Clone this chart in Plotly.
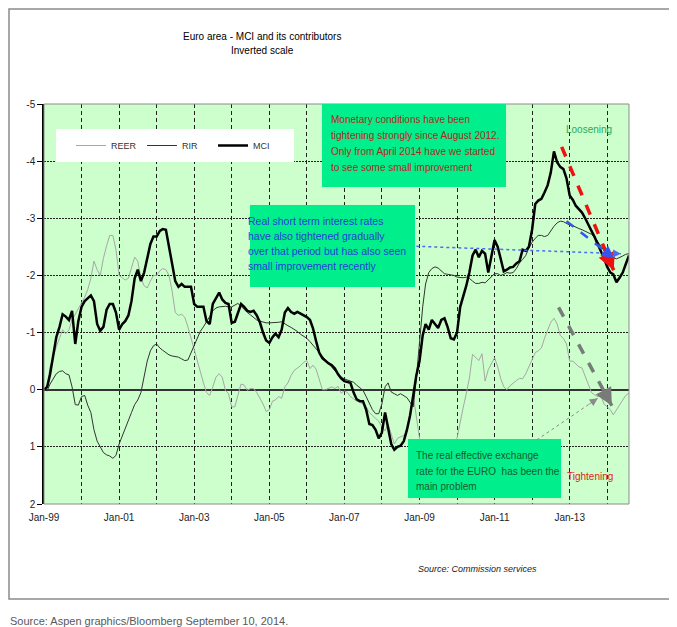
import pandas as pd
import plotly.graph_objects as go

# monthly data, Jan-1999 .. Aug-2014 (inverted scale: negative = looser)
months = pd.date_range("1999-01-01", periods=188, freq="MS")

mci = [
    0.00, -0.05, -0.27, -0.62, -0.92, -1.10, -1.32, -1.28, -1.22, -1.38,
    -0.80, -1.20, -1.45, -1.55, -1.60, -1.65, -1.55, -1.15, -1.03, -1.10,
    -1.40, -1.50, -1.50, -1.35, -1.05, -1.15, -1.20, -1.30, -1.55, -1.95,
    -2.10, -1.90, -2.05, -2.28, -2.55, -2.68, -2.68, -2.78, -2.81, -2.80,
    -2.50, -2.20, -1.90, -1.80, -1.85, -1.80, -1.80, -1.80, -1.50, -1.45,
    -1.45, -1.45, -1.20, -1.15, -1.50, -1.60, -1.70, -1.58, -1.52, -1.50,
    -1.17, -1.19, -1.35, -1.50, -1.45, -1.38, -1.36, -1.38, -1.30, -1.18,
    -1.00, -0.86, -0.82, -0.92, -0.98, -0.92, -1.05, -1.35, -1.43, -1.36,
    -1.33, -1.36, -1.33, -1.30, -1.27, -1.22, -1.08, -0.85, -0.65, -0.55,
    -0.50, -0.46, -0.43, -0.37, -0.27, -0.20, -0.15, -0.13, -0.12, 0.05,
    0.17, 0.20, 0.20, 0.35, 0.60, 0.62, 0.70, 0.85, 0.75, 0.40,
    0.65, 0.95, 1.05, 1.00, 0.98, 0.90, 0.70, 0.45, 0.10, -0.25,
    -0.50, -0.95, -1.15, -1.05, -1.22, -1.15, -1.08, -1.22, -1.25, -1.10,
    -0.90, -0.88, -1.00, -1.45, -1.62, -1.82, -2.05, -2.35, -2.45, -2.32,
    -2.43, -2.38, -2.05, -2.30, -2.62, -2.50, -2.30, -2.07, -2.10, -2.14,
    -2.15, -2.21, -2.25, -2.45, -2.43, -2.50, -2.80, -3.25, -3.31, -3.34,
    -3.45, -3.58, -3.80, -4.17, -3.98, -3.90, -3.86, -3.70, -3.40, -3.32,
    -3.22, -3.15, -3.10, -3.00, -2.88, -2.78, -2.67, -2.55, -2.44, -2.30,
    -2.15, -2.05, -2.02, -1.88, -1.96, -2.05, -2.20, -2.35,
]

rir = [
    0.00, 0.02, -0.10, -0.20, -0.28, -0.32, -0.33, -0.28, -0.26, -0.05,
    0.26, 0.27, 0.12, 0.10, 0.27, 0.40, 0.70, 0.90, 1.00, 1.10,
    1.14, 1.16, 1.20, 1.15, 0.95, 0.80, 0.70, 0.55, 0.40, 0.26,
    0.18, 0.05, -0.20, -0.50, -0.68, -0.77, -0.80, -0.73, -0.69, -0.65,
    -0.61, -0.59, -0.58, -0.57, -0.54, -0.51, -0.52, -0.64, -0.78, -0.90,
    -1.02, -1.10, -1.18, -1.28, -1.38, -1.43, -1.45, -1.46, -1.46, -1.45,
    -1.45, -1.48, -1.51, -1.46, -1.40, -1.35, -1.31, -1.26, -1.22, -1.20,
    -1.18, -1.17, -1.17, -1.17, -1.17, -1.18, -1.19, -1.15, -1.12, -1.09,
    -1.06, -1.02, -0.97, -0.94, -0.90, -0.84, -0.78, -0.71, -0.65, -0.58,
    -0.52, -0.45, -0.39, -0.33, -0.28, -0.22, -0.19, -0.17, -0.15, -0.13,
    -0.08, -0.03, 0.01, 0.12, 0.25, 0.35, 0.42, 0.42, 0.25, -0.05,
    -0.12, 0.04, 0.07, 0.10, 0.07, 0.10, 0.14, 0.22, 0.30, -0.20,
    -0.80, -1.45, -1.85, -2.05, -2.12, -2.15, -2.13, -2.08, -2.03, -2.02,
    -2.01, -2.00, -1.97, -1.96, -1.96, -1.97, -1.95, -1.90, -1.86, -1.86,
    -1.88, -1.87, -1.93, -1.98, -2.03, -2.03, -2.00, -2.02, -2.05, -2.04,
    -2.05, -2.12, -2.22, -2.28, -2.35, -2.48, -2.58, -2.65, -2.70, -2.70,
    -2.68, -2.70, -2.78, -2.86, -2.92, -2.95, -2.94, -2.91, -2.88, -2.87,
    -2.84, -2.82, -2.80, -2.77, -2.74, -2.72, -2.67, -2.59, -2.50, -2.42,
    -2.35, -2.30, -2.31, -2.29, -2.31, -2.34, -2.37, -2.38,
]

reer = [
    0.00, -0.05, -0.40, -0.60, -0.75, -0.90, -1.05, -0.98, -1.05, -1.22,
    -1.32, -1.44, -1.54, -1.62, -1.75, -1.95, -2.25, -2.10, -2.00, -2.30,
    -2.52, -2.70, -2.70, -2.45, -2.00, -1.95, -1.92, -1.95, -2.15, -2.32,
    -2.25, -1.95, -1.82, -1.78, -1.90, -2.00, -2.00, -2.08, -2.12, -2.10,
    -2.00, -1.72, -1.35, -1.30, -1.32, -1.27, -1.10, -0.90, -0.68, -0.52,
    -0.30, -0.12, 0.05, 0.10, -0.05, -0.22, -0.28, -0.22, 0.01, 0.07,
    0.30, 0.30, 0.10, -0.10, -0.08, 0.01, -0.02, -0.02, 0.05, 0.15,
    0.25, 0.38, 0.35, 0.20, 0.18, 0.12, 0.15, -0.05, -0.12, -0.25,
    -0.34, -0.38, -0.42, -0.48, -0.51, -0.37, -0.43, -0.36, -0.20, 0.00,
    0.00, -0.03, -0.05, -0.02, -0.06, 0.06, 0.02, 0.05, 0.12, 0.16,
    0.20, 0.22, 0.25, 0.30, 0.40, 0.45, 0.50, 0.55, 0.65, 0.72,
    0.60, 0.80, 0.95, 0.85, 0.83, 0.80, 0.72, 0.45, 0.10, 0.50,
    0.85, 1.10, 1.25, 1.30, 1.35, 1.30, 1.25, 1.20, 1.15, 1.10,
    1.05, 1.00, 0.85, 0.54, 0.32, 0.07, -0.20, -0.62, -0.57, -0.51,
    -0.63, -0.15, -0.35, -0.45, -0.56, -0.40, -0.20, -0.05, 0.00, -0.07,
    -0.12, -0.16, -0.20, -0.19, -0.28, -0.40, -0.52, -0.65, -0.68, -0.73,
    -0.90, -1.05, -1.18, -1.25, -1.15, -0.95, -0.90, -0.80, -0.50, -0.50,
    -0.45, -0.40, -0.38, -0.24, -0.08, 0.05, 0.09, 0.12, 0.11, 0.25,
    0.30, 0.35, 0.44, 0.35, 0.25, 0.18, 0.10, 0.06,
]

x_tick_dates = pd.date_range("1999-01-01", "2013-01-01", freq="24MS")
y_tick_vals = [-5, -4, -3, -2, -1, 0, 1, 2]
y_tick_text = ["-5", "-4", "-3", "-2", "-1", "0", "1", "2"]

FONT = "Liberation Sans, Arial, sans-serif"

# the page has an 8px body margin; positions below are in window pixels
# plot area in window pixels: x 44..629, y 104..504
def px(x):
    return (x - 44) / 585

def py(y):
    return (504 - y) / 400

fig = go.Figure()
fig.add_trace(go.Scatter(x=months, y=reer, mode="lines", name="REER",
                         line=dict(color="#a6a6a6", width=1)))
fig.add_trace(go.Scatter(x=months, y=rir, mode="lines", name="RIR",
                         line=dict(color="#333333", width=1)))
fig.add_trace(go.Scatter(x=months, y=mci, mode="lines", name="MCI",
                         line=dict(color="#000000", width=2.5)))

shapes = []
# outer frame and plot border
shapes.append(dict(type="rect", xref="paper", yref="paper", x0=px(9), x1=px(671),
                   y0=py(599), y1=py(9), line=dict(color="#8c8c8c", width=1.5), layer="below"))
shapes.append(dict(type="rect", xref="paper", yref="paper", x0=0, x1=1, y0=0, y1=1,
                   line=dict(color="#8c8c8c", width=1), layer="above"))
# legend background
shapes.append(dict(type="rect", xref="paper", yref="paper", x0=px(56), x1=px(294),
                   y0=py(162), y1=py(129), fillcolor="white", line=dict(width=0), layer="above"))
# text boxes
box_fill = "#00ee8c"
for x0, x1, y0, y1 in [(322, 506, 104, 187), (250, 415, 205, 287), (408, 561, 439, 498)]:
    shapes.append(dict(type="rect", xref="paper", yref="paper", x0=px(x0), x1=px(x1),
                       y0=py(y1), y1=py(y0), fillcolor=box_fill, line=dict(width=0), layer="above"))

# arrows: (tail date, tail value, head date, head value, colour, width, dash, head offset)
arrows = [
    ("2012-10-15", -4.25, "2014-03-05", -2.09, "#ee1111", 3.5, "dash", (-4.7, -11)),
    ("2012-12-01", -2.95, "2014-03-10", -2.30, "#3355ee", 2.5, "dash", (-9.5, -7.3)),
    ("2008-12-01", -2.51, "2014-05-15", -2.38, "#4a6cf0", 1.5, "dot", (-10, -0.4)),
    ("2012-09-15", -1.44, "2014-02-15", 0.28, "#7a7a7a", 3.5, "dash", (-5.7, -10.5)),
    ("2012-02-15", 0.88, "2013-10-01", 0.15, "#8a8a8a", 1, "dot", (-9.9, 6.8)),
]

annotations = []
for tx, ty, hx, hy, col, w, dash, (ax, ay) in arrows:
    shapes.append(dict(type="line", xref="x", yref="y", x0=tx, y0=ty, x1=hx, y1=hy,
                       line=dict(color=col, width=w, dash=dash), layer="above"))
    annotations.append(dict(x=hx, y=hy, xref="x", yref="y", ax=ax, ay=ay, text="",
                            showarrow=True, arrowhead=2, arrowsize=1 if w > 2 else 1.6,
                            arrowwidth=w if w > 2 else 1, arrowcolor=col))


def label(x, y, text, size, color, anchor="center", italic=False):
    if italic:
        text = "<i>" + text + "</i>"
    return dict(x=px(x), y=py(y), xref="paper", yref="paper", xanchor=anchor,
                yanchor="middle", showarrow=False, text=text,
                font=dict(family=FONT, size=size, color=color))


red_lines = ["Monetary conditions have been",
             "tightening strongly since August 2012.",
             "Only from April 2014 have we started",
             "to see some small improvement"]
blue_lines = ["Real short term interest rates",
              "have also tightened gradually",
              "over that period but has also seen",
              "small improvement recently"]
green_lines = ["The real effective exchange",
               "rate for the EURO  has been the",
               "main problem"]

annotations.append(label(262, 36, "Euro area - MCI and its contributors", 10, "#000"))
annotations.append(label(262, 50, "Inverted scale", 10, "#000"))
for i, t in enumerate(red_lines):
    annotations.append(label(329, 119.5 + 16 * i, t, 10, "#b8231a", "left"))
for i, t in enumerate(blue_lines):
    annotations.append(label(246, 220.5 + 15.3 * i, t, 10.5, "#2241d6", "left"))
for i, t in enumerate(green_lines):
    annotations.append(label(414, 455.5 + 15.5 * i, t, 10, "#1d5a2c", "left"))
annotations.append(label(589, 129, "Loosening", 10, "#2aa85a"))
annotations.append(label(590, 476, "Tightening", 10, "#e01b1b"))
annotations.append(label(477, 569, "Source: Commission services", 9, "#222", italic=True))
annotations.append(label(8, 621, "Source: Aspen graphics/Bloomberg September 10, 2014.",
                         11, "#595959", "left"))

fig.update_layout(
    width=669, height=619,
    margin=dict(l=36, r=48, t=96, b=123, autoexpand=False),
    paper_bgcolor="white",
    plot_bgcolor="#ccffcc",
    shapes=shapes,
    annotations=annotations,
    showlegend=True,
    legend=dict(orientation="h", x=px(71), y=py(145.5), xanchor="left", yanchor="middle",
                bgcolor="rgba(0,0,0,0)", font=dict(family=FONT, size=9, color="#333"),
                entrywidth=26, traceorder="normal"),
    xaxis=dict(
        type="date", range=["1999-01-01", "2014-08-01"],
        tickvals=x_tick_dates, tickformat="%b-%y",
        tickfont=dict(family=FONT, size=10, color="#222"), ticklabelstandoff=6,
        showgrid=True, gridcolor="#222", griddash="4px,3px", gridwidth=1,
        minor=dict(dtick="M12", tick0="1999-01-01", showgrid=True,
                   gridcolor="#222", griddash="4px,3px", gridwidth=1),
        showline=False, ticks="", zeroline=False,
    ),
    yaxis=dict(
        range=[2, -5], tickvals=y_tick_vals, ticktext=y_tick_text,
        tickfont=dict(family=FONT, size=10, color="#222"),
        showgrid=True, gridcolor="#222", griddash="2px,1px", gridwidth=1,
        showline=True, linecolor="black", linewidth=1.5,
        ticks="outside", ticklen=5, tickcolor="black",
        zeroline=True, zerolinecolor="#333", zerolinewidth=1.5,
    ),
)

fig.write_html("out.html")
